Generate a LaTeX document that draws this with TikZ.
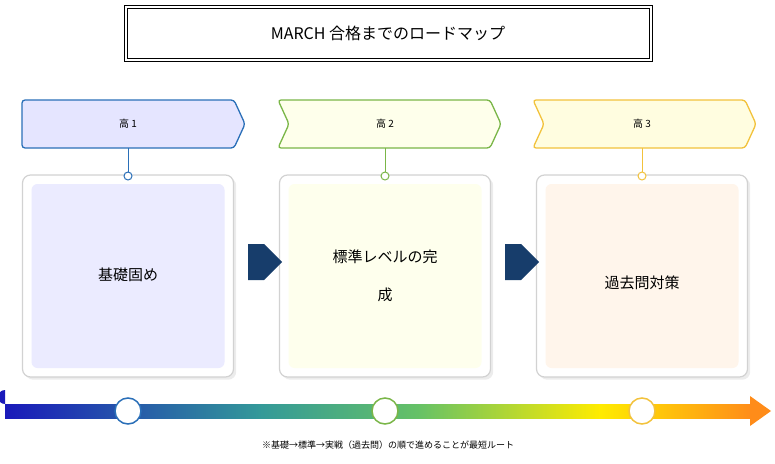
\documentclass[tikz,border=0pt]{standalone}
\usepackage{fontspec}
\setmainfont{Noto Sans CJK JP}
\usetikzlibrary{positioning,shapes.arrows,shadows}
\definecolor{navy}{HTML}{173D6B}
\definecolor{bluel}{HTML}{2A6FB8}
\definecolor{greenl}{HTML}{7AB648}
\definecolor{yellowl}{HTML}{F2C23C}
\tikzset{
  card/.style={draw=gray!35,line width=1.2pt,rounded corners=8pt,fill=white,minimum width=211pt,minimum height=202pt,drop shadow={opacity=0.15}},
  inner/.style={rounded corners=6pt,minimum width=193pt,minimum height=184pt},
  pin/.style={circle,draw=#1,fill=white,line width=1pt,inner sep=0pt,minimum size=8pt},
  stop/.style={circle,draw=#1,fill=white,line width=1.5pt,inner sep=0pt,minimum size=26pt},
  nextarrow/.style={single arrow,fill=navy,minimum height=34pt,minimum width=36pt,single arrow head extend=0pt,inner sep=0pt,shape border rotate=0},
  lbl/.style={font=\fontsize{15}{18}\selectfont}
}
\begin{document}
\begin{tikzpicture}[x=1pt,y=-1pt]
\useasboundingbox (0,0) rectangle (775,463);
%title
\draw[line width=0.8pt] (124,5) rectangle (652,61);
\draw[line width=0.8pt] (127,8) rectangle (649,58);
\node[font=\fontsize{16}{19}\selectfont] (title) at (388,33) {MARCH 合格までのロードマップ};
%headers
\draw[bluel,line width=1.3pt,fill=blue!10,rounded corners=3pt] (22,100) -- (234,100) -- (245,124) -- (234,148) -- (22,148) -- cycle;
\draw[greenl,line width=1.3pt,fill=green!5!yellow!8,rounded corners=3pt] (278,100) -- (490,100) -- (501,124) -- (490,148) -- (278,148) -- (289,124) -- cycle;
\draw[yellowl,line width=1.3pt,fill=yellow!12,rounded corners=3pt] (533,100) -- (745,100) -- (756,124) -- (745,148) -- (533,148) -- (544,124) -- cycle;
\node (h1) at (128,124) {高 1};
\node (h2) at (385,124) {高 2};
\node (h3) at (642,124) {高 3};
%cards
\node[card] (c1) at (128,276) {};
\node[card] (c2) at (385,276) {};
\node[card] (c3) at (642,276) {};
\node[inner,fill=blue!8] at (c1) {};
\node[inner,fill=green!6!yellow!7] at (c2) {};
\node[inner,fill=orange!8] at (c3) {};
\node[lbl] at (128,275) {基礎固め};
\node[lbl,align=center] at (385,276) {標準レベルの完\\[20pt]成};
\node[lbl] at (642,283) {過去問対策};
\node[pin=bluel] (p1) at (128,176) {};
\node[pin=greenl] (p2) at (385,176) {};
\node[pin=yellowl] (p3) at (642,176) {};
\draw[bluel,line width=1pt] (h1.south |- 0,148) -- (p1);
\draw[greenl,line width=1pt] (h2.south |- 0,148) -- (p2);
\draw[yellowl,line width=1pt] (h3.south |- 0,148) -- (p3);
\node[nextarrow] at (256,262) {};
\node[nextarrow] at (513,262) {};
%timeline
\fill[left color=blue!70!black!90,right color=teal!80] (5,404) rectangle (260,418);
\fill[left color=teal!80,right color=green!60!black!60] (259,404) rectangle (420,418);
\fill[left color=green!60!black!60,right color=yellow!85!orange] (419,404) rectangle (600,418);
\fill[left color=yellow!85!orange,right color=orange!90] (599,404) rectangle (752,418);
\fill[blue!70!black!90] (5,404) arc (90:270:7) -- cycle;
\fill[orange!90] (750,396) -- (771,411) -- (750,426) -- cycle;
\node[stop=bluel] (s1) at (128,411) {};
\node[stop=greenl] (s2) at (385,411) {};
\node[stop=yellowl] (s3) at (642,411) {};
\node[font=\small] (note) at (388,445) {※基礎→標準→実戦（過去問）の順で進めることが最短ルート};
\end{tikzpicture}
\end{document}
